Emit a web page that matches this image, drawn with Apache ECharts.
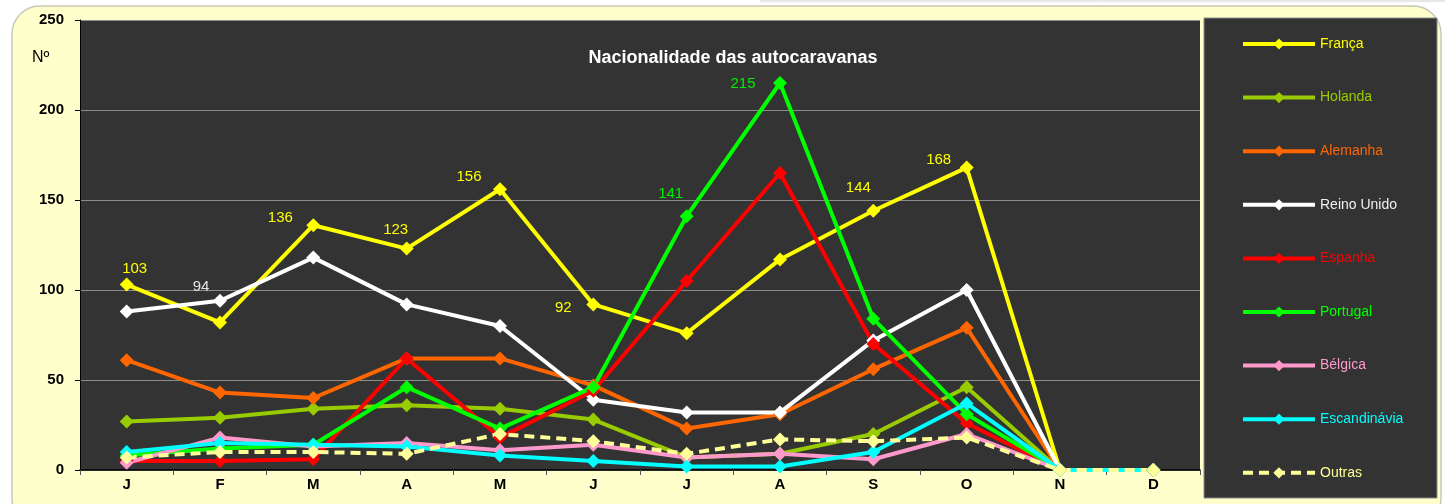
<!DOCTYPE html>
<html>
<head>
<meta charset="utf-8">
<script src="https://cdn.jsdelivr.net/npm/echarts@6/dist/echarts.min.js"></script>
<style>
  body { margin: 0; background: #ffffff; }
  #chart { width: 1445px; height: 504px; }
</style>
</head>
<body>
<div id="chart"></div>
<script>
// meses
const months = ['J', 'F', 'M', 'A', 'M', 'J', 'J', 'A', 'S', 'O', 'N', 'D']
const yTicks = [0, 50, 100, 150, 200, 250]

const franca = [103, 82, 136, 123, 156, 92, 76, 117, 144, 168, 0, 0]
const holanda = [27, 29, 34, 36, 34, 28, 7, 9, 20, 46, 0, 0]
const alemanha = [61, 43, 40, 62, 62, 47, 23, 31, 56, 79, 0, 0]
const reinoUnido = [88, 94, 118, 92, 80, 39, 32, 32, 72, 100, 0, 0]
const espanha = [5, 5, 6, 62, 18, 44, 105, 165, 70, 26, 0, 0]
const portugal = [8, 12, 14, 46, 23, 46, 141, 215, 84, 31, 0, 0]
const belgica = [4, 18, 13, 15, 11, 14, 7, 9, 6, 20, 0, 0]
const escandinavia = [10, 15, 14, 13, 8, 5, 2, 2, 10, 37, 0, 0]
const outras = [7, 10, 10, 9, 20, 16, 9, 17, 16, 18, 0, 0]

// rótulos visíveis: indice -> deslocamento do texto
const francaLabels = { 0: [8, -16], 2: [-33, -7], 3: [-11, -19], 4: [-31, -12], 5: [-30, 3], 8: [-15, -23], 9: [-28, -8] }
const reinoLabels = { 1: [-19, -14] }
const portugalLabels = { 6: [-16, -22], 7: [-37, 1] }

const font = 'Arial, "Liberation Sans", sans-serif'

function withLabels(values, labels, color) {
  return values.map((v, i) => {
    if (!labels[i]) return v
    return {
      value: v,
      label: {
        show: true,
        position: 'inside',
        offset: labels[i],
        color: color,
        fontSize: 15,
        fontFamily: font,
        formatter: '{c}'
      }
    }
  })
}

function line(name, color, data, dashed) {
  return {
    name: name,
    type: 'line',
    data: data,
    symbol: 'diamond',
    symbolSize: 14,
    lineStyle: { color: color, width: 4, type: dashed ? [10, 6] : 'solid' },
    itemStyle: { color: color },
    label: { show: false },
    z: 2
  }
}

const series = [
  line('França', '#ffff00', withLabels(franca, francaLabels, '#ffff00')),
  line('Holanda', '#99cc00', holanda),
  line('Alemanha', '#ff6600', alemanha),
  line('Reino Unido', '#ffffff', withLabels(reinoUnido, reinoLabels, '#e6e6e6')),
  line('Espanha', '#ff0000', espanha),
  line('Portugal', '#00ff00', withLabels(portugal, portugalLabels, '#00ee00')),
  line('Bélgica', '#ff99cc', belgica),
  line('Escandinávia', '#00ffff', escandinavia),
  line('Outras', '#ffff99', outras, true)
]

const chart = echarts.init(document.getElementById('chart'), null, { renderer: 'canvas' })
chart.setOption({
  animation: false,
  textStyle: { fontFamily: font },
  title: {
    text: 'Nacionalidade das autocaravanas',
    left: 728,
    top: 44,
    textAlign: 'center',
    textStyle: { color: '#ffffff', fontSize: 18, fontWeight: 'bold', fontFamily: font }
  },
  graphic: [
    { type: 'line', z: -10, shape: { x1: 760, y1: 1, x2: 1445, y2: 1 }, style: { stroke: '#d0d0d0', lineWidth: 1 } },
    { type: 'rect', z: -10, shape: { x: 12, y: 6, width: 1429, height: 520, r: 28 }, style: { fill: '#ffffcc', stroke: '#c8c8b8', lineWidth: 1.5 } },
    { type: 'rect', z: -5, shape: { x: 1204, y: 18, width: 233, height: 480 }, style: { fill: '#333333', stroke: '#8a8a8a', lineWidth: 1 } },
    { type: 'text', left: 32, top: 50, style: { text: 'Nº', fill: '#000000', font: '16px Arial, sans-serif' } }
  ],
  legend: {
    orient: 'vertical',
    left: 1241,
    top: 37,
    padding: 0,
    itemWidth: 72,
    itemHeight: 14,
    itemGap: 39.6,
    lineStyle: { width: 4 },
    textStyle: { fontSize: 14, fontFamily: font },
    data: series.map(s => ({ name: s.name, textStyle: { color: s.lineStyle.color === '#ffffff' ? '#f0f0f0' : s.lineStyle.color } }))
  },
  grid: {
    left: 80,
    top: 20,
    width: 1120,
    height: 450,
    show: true,
    backgroundColor: '#333333',
    borderWidth: 0
  },
  xAxis: {
    type: 'category',
    data: months,
    boundaryGap: true,
    axisLine: { lineStyle: { color: '#000000', width: 1.5 } },
    axisTick: { show: true, length: 5, lineStyle: { color: '#555555' } },
    axisLabel: { color: '#000000', fontWeight: 'bold', fontSize: 15, margin: 7 }
  },
  yAxis: {
    type: 'value',
    min: yTicks[0],
    max: yTicks[yTicks.length - 1],
    interval: 50,
    axisLine: { show: true, lineStyle: { color: '#000000', width: 1 } },
    axisTick: { show: true, length: 5, lineStyle: { color: '#000000' } },
    axisLabel: { color: '#000000', fontWeight: 'bold', fontSize: 15, margin: 16 },
    splitLine: { show: true, lineStyle: { color: '#8c8c8c', width: 1 } }
  },
  series: series
})
</script>
</body>
</html>
